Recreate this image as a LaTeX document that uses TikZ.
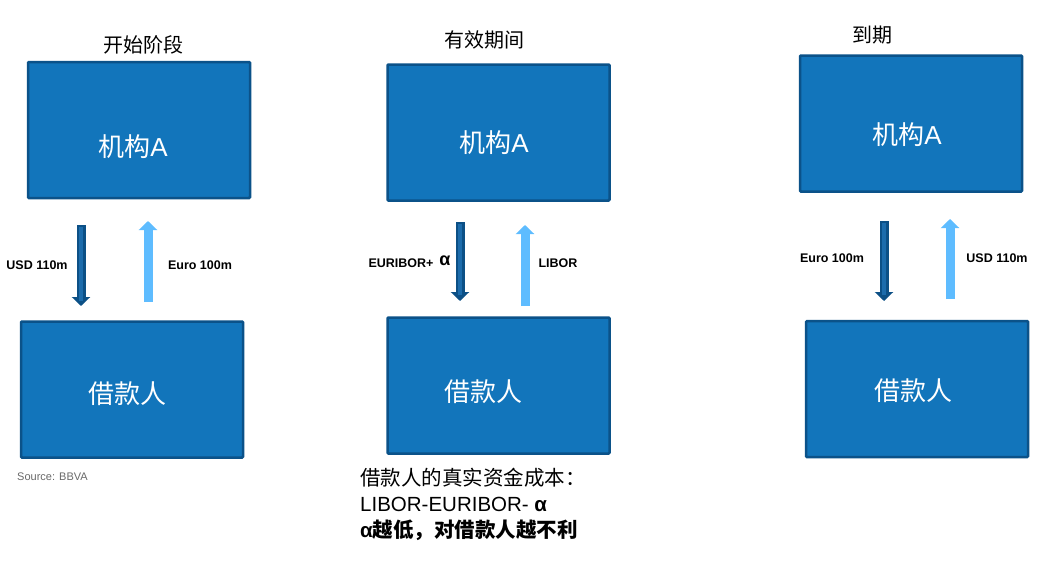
\documentclass[tikz,border=0pt]{standalone}
\usepackage{fontspec}
\setmainfont{Liberation Sans}
\newfontfamily\cjk{Noto Sans CJK SC}
\usepackage{tikz}
\usetikzlibrary{arrows.meta}

\definecolor{boxfill}{RGB}{18,117,187}
\definecolor{boxline}{RGB}{11,82,137}
\definecolor{arrdark}{RGB}{12,80,134}
\definecolor{arrmid}{RGB}{28,108,172}
\definecolor{arrlight}{RGB}{94,188,255}
\definecolor{srcgray}{RGB}{105,105,105}

\tikzset{
  box/.style={draw=boxline, fill=boxfill, line width=2.5pt, rounded corners=1pt,
    minimum width=222pt, minimum height=136pt, inner sep=0pt},
  boxtext/.style={text=white, font=\fontsize{26}{30}\selectfont, inner sep=0pt},
  stagetitle/.style={font=\cjk\fontsize{20}{24}\selectfont, inner sep=0pt},
  flowlabel/.style={font=\bfseries\fontsize{12.5}{15}\selectfont, inner sep=0pt},
  downarrow/.style={draw=arrdark, line width=9pt, -{Triangle[width=18pt,length=9pt]}},
  uparrow/.style={draw=arrlight, line width=9pt, -{Triangle[width=18pt,length=9pt]}},
  stripe/.style={draw=arrmid, line width=3.5pt}
}

\begin{document}
\begin{tikzpicture}[x=1pt,y=1pt,yscale=-1,xscale=1]
\useasboundingbox (0,0) rectangle (1056,562);

% Stage titles
\node[stagetitle] (title1) at (143,45) {开始阶段};
\node[stagetitle] (title2) at (484,40) {有效期间};
\node[stagetitle] (title3) at (872,35) {到期};

% Boxes: institution A
\node[box] (instA1) at (139,130) {};
\node[box] (instA2) at (498.5,132.5) {};
\node[box] (instA3) at (911,123.5) {};
% Boxes: borrower
\node[box] (borrower1) at (132,389.5) {};
\node[box] (borrower2) at (498.5,385.5) {};
\node[box] (borrower3) at (917,389) {};

% Text Node
\node[boxtext] (instA1txt) at (133,147) {{\cjk 机构}A};
\node[boxtext] (instA2txt) at (494,143) {{\cjk 机构}A};
\node[boxtext] (instA3txt) at (907,135) {{\cjk 机构}A};
\node[boxtext] (borrower1txt) at (127,394) {\cjk 借款人};
\node[boxtext] (borrower2txt) at (483,392) {\cjk 借款人};
\node[boxtext] (borrower3txt) at (913,391) {\cjk 借款人};

% Arrow ends
\coordinate (down1s) at (81,225);  \coordinate (down1e) at (81,306);
\coordinate (up1s) at (148,302);   \coordinate (up1e) at (148,221);
\coordinate (down2s) at (460,222); \coordinate (down2e) at (460,301);
\coordinate (up2s) at (525,306);   \coordinate (up2e) at (525,225);
\coordinate (down3s) at (884,221); \coordinate (down3e) at (884,301);
\coordinate (up3s) at (950,299);   \coordinate (up3e) at (950,219);

% Arrows, stage 1
\draw[downarrow] (down1s) -- (down1e);
\draw[stripe] (down1s) ++(0,1.5) -- ++(0,74);
\draw[uparrow] (up1s) -- (up1e);
% Arrows, stage 2
\draw[downarrow] (down2s) -- (down2e);
\draw[stripe] (down2s) ++(0,1.5) -- ++(0,71);
\draw[uparrow] (up2s) -- (up2e);
% Arrows, stage 3
\draw[downarrow] (down3s) -- (down3e);
\draw[stripe] (down3s) ++(0,1.5) -- ++(0,72);
\draw[uparrow] (up3s) -- (up3e);

% Flow labels
\node[flowlabel] (pay1) at (37,265) {USD 110m};
\node[flowlabel] (get1) at (200,265) {Euro 100m};
\node[flowlabel] (pay2) at (401,263) {EURIBOR+};
\node[font=\bfseries\fontsize{18}{20}\selectfont, inner sep=0pt] (alpha2) at (445,261) {α};
\node[flowlabel] (get2) at (558,263) {LIBOR};
\node[flowlabel] (pay3) at (832,258) {Euro 100m};
\node[flowlabel] (get3) at (997,258) {USD 110m};

% Source
\node[anchor=west, text=srcgray, font=\fontsize{11}{13}\selectfont, inner sep=0pt] (source) at (17,477) {Source: BBVA};

% Note under stage 2
\node[anchor=north west, align=left, inner sep=0pt, font=\fontsize{20.5}{26}\selectfont] (note) at (360,468)
  {{\cjk 借款人的真实资金成本：}\\
   LIBOR-EURIBOR- \textbf{α}\\
   \textbf{α{\cjk 越低，对借款人越不利}}};

\end{tikzpicture}
\end{document}
